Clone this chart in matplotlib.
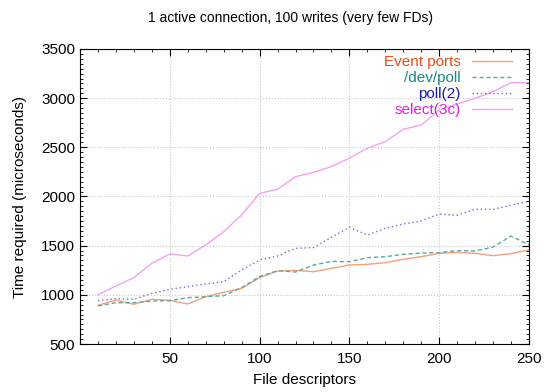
import numpy as np
from matplotlib import pyplot as plt
from matplotlib.ticker import MultipleLocator, FuncFormatter

plt.rcParams['font.family'] = ['Liberation Sans', 'DejaVu Sans']

fds = np.arange(10, 251, 10)

event_ports = [894, 947, 904, 955, 944, 907, 981, 1026, 1066, 1175,
               1242, 1249, 1235, 1269, 1303, 1310, 1327, 1361, 1388, 1422,
               1432, 1422, 1398, 1419, 1456]
dev_poll = [887, 920, 920, 937, 940, 971, 981, 991, 1073, 1185,
            1246, 1232, 1303, 1340, 1337, 1378, 1388, 1412, 1425, 1429,
            1449, 1446, 1486, 1598, 1507]
poll2 = [941, 961, 954, 1015, 1056, 1083, 1110, 1134, 1253, 1354,
         1395, 1473, 1480, 1585, 1687, 1608, 1676, 1720, 1751, 1822,
         1809, 1870, 1870, 1910, 1954]
select3c = [1001, 1090, 1175, 1321, 1415, 1395, 1507, 1642, 1812, 2032,
            2073, 2202, 2245, 2304, 2390, 2491, 2558, 2684, 2727, 2880,
            2941, 2999, 3066, 3158, 3158]

labels = ["Event ports", "/dev/poll", "poll(2)", "select(3c)"]
text_colors = ["#e8501a", "#158a80", "#1a1aa8", "#e020e0"]

fig = plt.figure(figsize=(5.58, 3.92), dpi=100)
ax = fig.add_axes([80/558, 1-344/392, 449/558, 295/392])

ax.plot(fds, event_ports, color="#f4a07a", lw=1.0, ls="-", label=labels[0])
ax.plot(fds, dev_poll, color="#5aa8a0", lw=1.0, ls=(0, (3, 2)), label=labels[1])
ax.plot(fds, poll2, color="#7070e0", lw=1.0, ls=(0, (1, 2)), label=labels[2])
ax.plot(fds, select3c, color="#f4a0f4", lw=1.0, ls="-", label=labels[3])

ax.set_xlim(0, 250)
ax.set_ylim(500, 3500)
ax.xaxis.set_major_locator(MultipleLocator(50))
ax.xaxis.set_minor_locator(MultipleLocator(10))
ax.xaxis.set_major_formatter(FuncFormatter(lambda v, p: "" if v == 0 else f"{v:.0f}"))
ax.yaxis.set_major_locator(MultipleLocator(500))
ax.yaxis.set_minor_locator(MultipleLocator(50))
ax.tick_params(which="both", direction="in", top=True, right=True, labelsize=11)
ax.tick_params(axis="x", which="major", pad=6)
ax.tick_params(which="major", length=5)
ax.tick_params(which="minor", length=2.5)
ax.grid(True, which="major", color="#c8c8c8", ls=":", lw=0.8)

fig.text(290/558, 1-18/392, "1 active connection, 100 writes (very few FDs)",
         fontsize=10, ha="center", va="center")
ax.set_xlabel("File descriptors", fontsize=11, labelpad=5)
ax.set_ylabel("Time required (microseconds)", fontsize=11, labelpad=10)

leg = ax.legend(loc="upper right", bbox_to_anchor=(0.962, 0.978), frameon=False,
                markerfirst=False, fontsize=11, labelspacing=0.12,
                handlelength=2.6, handletextpad=0.75, borderpad=0, borderaxespad=0,
                labelcolor=text_colors)

fig.savefig("out.png", dpi=100)
